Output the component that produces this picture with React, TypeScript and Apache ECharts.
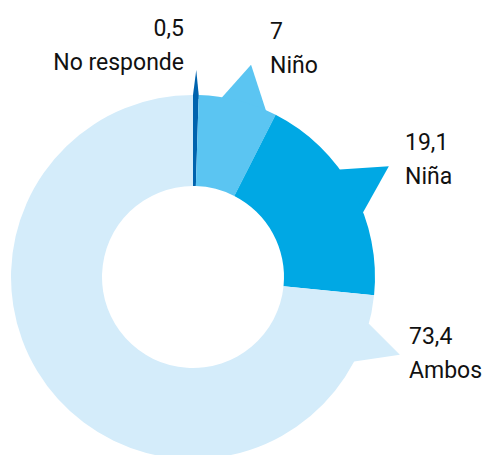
import React, { useEffect, useRef } from 'react';
import * as echarts from 'echarts';

// ---- data ----
const categories = ['No responde', 'Niño', 'Niña', 'Ambos'];
const values = [0.5, 7, 19.1, 73.4];

// ---- styles ----
const colors = ['#0063AE', '#5BC5F2', '#00A8E4', '#D4ECFA'];
const CX = 193;
const CY = 277;
const R_IN = 91;
const R_OUT = 182;
const START = 90; // echarts degrees (12 o'clock)

// callout pointers (decoration): base span in compass degrees, tip compass degree + radius
// null base => use the slice's own span (needle)
const pointerBase: (number[] | null)[] = [null, [9.2, 23.6], [53.8, 69.2], [104.9, 117.7]];
const pointerTipAngle: (number | null)[] = [null, 15.3, 60.5, 110.6];
const pointerTipRadius = [207, 220, 225, 221];

// label anchors (decoration)
const labelX = [184, 270, 405, 409];
const labelY = [11, 14, 125, 319];
const labelAlign = ['right', 'left', 'left', 'left'];

const fmt = (v: number) => String(v).replace('.', ',');

const pt = (deg: number, r: number) => {
  const a = (deg * Math.PI) / 180;
  return [CX + r * Math.sin(a), CY - r * Math.cos(a)];
};

export default function App() {
  const ref = useRef<HTMLDivElement>(null);
  useEffect(() => {
    if (!ref.current) return;
    const chart = echarts.init(ref.current, undefined, { renderer: 'svg' });

    const total = values.reduce((a, b) => a + b, 0);
    const offset = 90 - START;
    let acc = 0;
    const graphics: any[] = [];
    values.forEach((v, i) => {
      const s = offset + (acc / total) * 360;
      const e = offset + ((acc + v) / total) * 360;
      acc += v;
      const base = pointerBase[i] || [s, e];
      const tipA = pointerTipAngle[i] ?? (s + e) / 2;
      const pts = [
        pt(base[0], R_OUT - 4),
        pt(base[0], R_OUT),
        pt(tipA, pointerTipRadius[i]),
        pt(base[1], R_OUT),
        pt(base[1], R_OUT - 4),
      ];
      graphics.push({
        type: 'polygon',
        z: 1,
        shape: { points: pts },
        style: { fill: colors[i] },
        silent: true,
      });
    });

    chart.setOption({
      animation: false,
      graphic: { elements: graphics },
      series: [
        {
          type: 'pie',
          z: 2,
          center: [CX, CY],
          radius: [R_IN, R_OUT],
          startAngle: START,
          clockwise: true,
          silent: true,
          avoidLabelOverlap: false,
          itemStyle: { borderWidth: 0 },
          emphasis: { disabled: true },
          label: {
            show: true,
            position: 'outside',
            formatter: (p: any) => fmt(p.value) + '\n' + p.name,
            fontFamily: "Roboto, 'Liberation Sans', sans-serif",
            fontSize: 23,
            lineHeight: 34,
            color: '#111111',
          },
          labelLine: { show: false },
          labelLayout: (params: any) => ({
            x: labelX[params.dataIndex],
            y: labelY[params.dataIndex],
            align: labelAlign[params.dataIndex],
            verticalAlign: 'top',
          }),
          data: categories.map((c, i) => ({
            name: c,
            value: values[i],
            itemStyle: { color: colors[i] },
          })),
        },
      ],
    });
    return () => chart.dispose();
  }, []);
  return (
    <div
      ref={ref}
      style={{ position: 'fixed', left: 0, top: 0, width: 483, height: 455, background: '#fff' }}
    />
  );
}
